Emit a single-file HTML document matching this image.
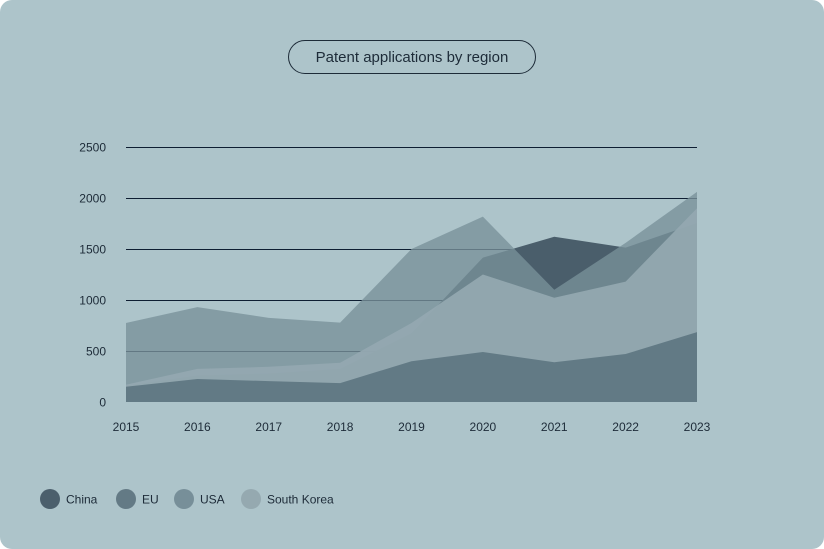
<!DOCTYPE html>
<html><head><meta charset="utf-8"><style>
html,body{margin:0;padding:0;background:#fff;}
body{width:824px;height:549px;overflow:hidden;font-family:"Liberation Sans",sans-serif;}
#card{position:absolute;left:0;top:0;width:824px;height:549px;background:#adc4ca;border-radius:12px;}
#title{position:absolute;left:288px;top:40px;width:246px;height:32px;border:1.3px solid #1d2b38;border-radius:17px;text-align:center;line-height:33px;font-size:15px;color:#1d2b38;}
svg{position:absolute;left:0;top:0;}
</style></head><body>
<div id="card">
<div id="title">Patent applications by region</div>
<svg id="chart" width="824" height="549"></svg>
</div>
<script>
const years = ["2015","2016","2017","2018","2019","2020","2021","2022","2023"];
const yTicks = [0,500,1000,1500,2000,2500];
const usa = [775,930,825,778,1500,1817,1100,1560,2060];
const china = [160,260,280,325,675,1415,1620,1513,1755];
const southKorea = [170,325,345,385,775,1250,1022,1180,1900];
const eu = [150,225,205,185,400,490,390,470,685];
const legendNames = ["China","EU","USA","South Korea"];
const legendColors = ["#4b5f6c","#637a85","#778f99","#95a9b0"];

const svg = document.getElementById('chart');
const NS = 'http://www.w3.org/2000/svg';
const x = i => 126 + i * (697 - 126) / (years.length - 1);
const y = v => 402 - v * 0.102;
function mk(t, a){const e=document.createElementNS(NS,t);for(const k in a)e.setAttribute(k,a[k]);svg.appendChild(e);return e;}

yTicks.forEach(t=>{
  if(t>0){const l=mk('line',{x1:126,x2:697,y1:Math.round(y(t))+0.5,y2:Math.round(y(t))+0.5,stroke:'#0e1e32','stroke-width':1});
  
  }
  const tx=mk('text',{x:106,y:y(t)+4.5,'text-anchor':'end','font-size':12,fill:'#1d2b38'});
  tx.textContent=t;
  
  
});
years.forEach((yr,i)=>{
  const tx=mk('text',{x:x(i),y:431,'text-anchor':'middle','font-size':12,fill:'#1d2b38'});
  tx.textContent=yr;
  
  
});
function area(vals,color,op,name){
  let d='M'+x(0)+','+y(0);
  vals.forEach((v,i)=>{d+=' L'+x(i)+','+y(v);});
  d+=' L'+x(vals.length-1)+','+y(0)+' Z';
  const p=mk('path',{d:d,fill:color,'fill-opacity':op});
  
  
}
area(china,'#4a5e6b',1,'area-china');
area(usa,'#799199',0.79,'area-usa');
area(southKorea,'#94a8b0',0.94,'area-south-korea');
area(eu,'#627a85',1,'area-eu');

const lx=[50,126,184,251];
legendNames.forEach((n,i)=>{
  const c=mk('circle',{cx:lx[i],cy:499,r:10,fill:legendColors[i]});
  
  
  const t=mk('text',{x:lx[i]+16,y:503.5,'font-size':12,fill:'#1d2b38'});
  t.textContent=n;
  
  
});
</script>
</body></html>
